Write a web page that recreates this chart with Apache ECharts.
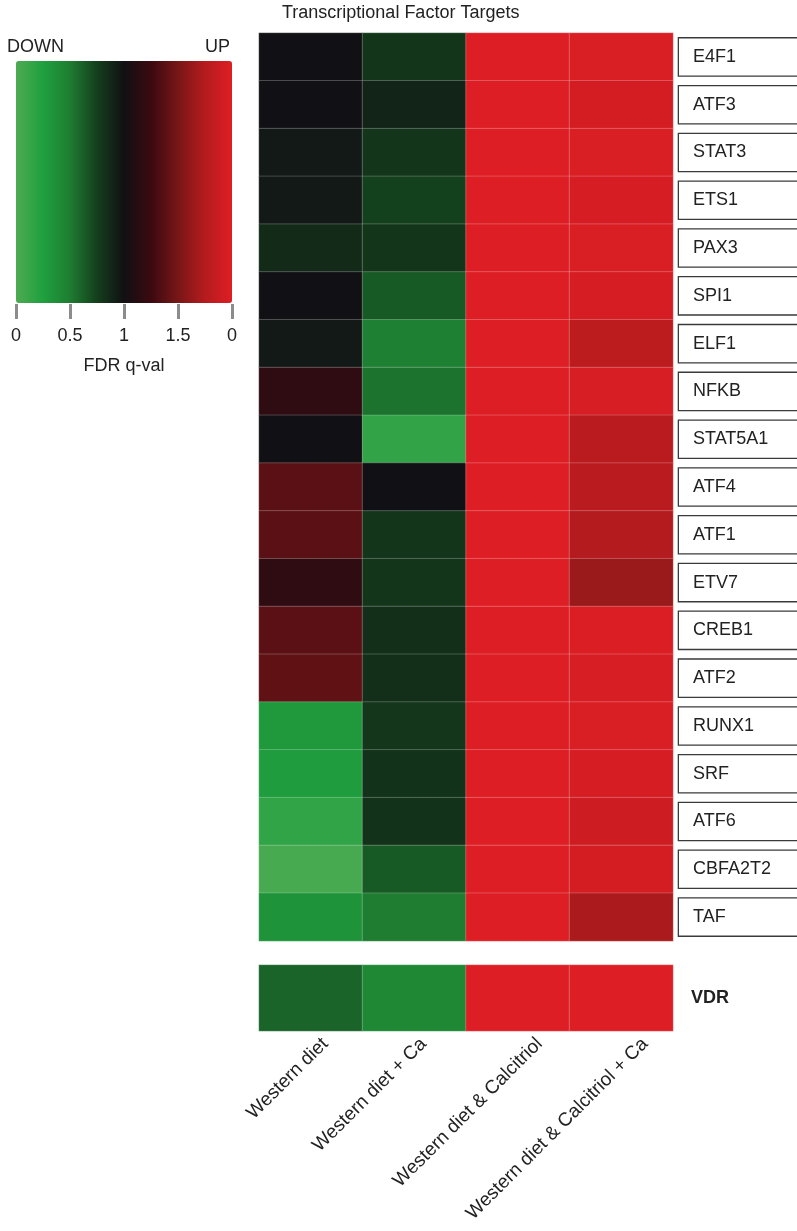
<!DOCTYPE html>
<html>
<head>
<meta charset="utf-8">
<script src="https://cdn.jsdelivr.net/npm/echarts@6/dist/echarts.min.js"></script>
<style>
  html, body { margin: 0; padding: 0; background: #ffffff; }
  #chart { width: 797px; height: 1231px; }
</style>
</head>
<body>
<div id="chart"></div>
<script>
// Diet groups (heatmap columns)
const columns = ['Western diet', 'Western diet + Ca', 'Western diet & Calcitriol', 'Western diet & Calcitriol + Ca'];

// Transcription factor target sets (heatmap rows, top to bottom)
const factors = ['E4F1', 'ATF3', 'STAT3', 'ETS1', 'PAX3', 'SPI1', 'ELF1', 'NFKB', 'STAT5A1', 'ATF4',
                 'ATF1', 'ETV7', 'CREB1', 'ATF2', 'RUNX1', 'SRF', 'ATF6', 'CBFA2T2', 'TAF'];

// Signed FDR scale: 0 = strongest DOWN, 1 = q-val 1 (no change), 2 = strongest UP
const westernDiet        = [1.00, 1.00, 0.95, 0.95, 0.86, 1.00, 0.95, 1.18, 1.00, 1.38,
                            1.38, 1.18, 1.38, 1.40, 0.30, 0.27, 0.16, 0.03, 0.34];
const westernDietCa      = [0.80, 0.90, 0.80, 0.74, 0.80, 0.64, 0.48, 0.54, 0.15, 1.00,
                            0.80, 0.80, 0.84, 0.84, 0.79, 0.82, 0.82, 0.64, 0.50];
const westernCalcitriol  = [2.00, 2.00, 2.00, 2.00, 2.00, 2.00, 2.00, 2.00, 2.00, 2.00,
                            2.00, 2.00, 2.00, 2.00, 2.00, 2.00, 2.00, 2.00, 2.00];
const westernCalcitriolCa= [1.97, 1.93, 1.97, 1.95, 1.97, 1.95, 1.80, 1.96, 1.78, 1.78,
                            1.74, 1.64, 1.98, 1.96, 1.97, 1.95, 1.90, 1.93, 1.71];

// Vitamin D receptor row
const vdrName = ['VDR'];
const vdrValues = [0.60, 0.42, 2.00, 2.00];

// Colour scale ticks
const scaleTickLabels = ['0', '0.5', '1', '1.5', '0'];
const scaleColors = ['#4eab52', '#1fa03f', '#1e7d31', '#143f1c', '#111014',
                     '#3a0a10', '#781617', '#b51b1e', '#de1e25'];

// Where each rotated column caption ends, in column units along the axis
const captionAnchors = [0.14, 1.09, 2.21, 3.23];

const columnValues = [westernDiet, westernDietCa, westernCalcitriol, westernCalcitriolCa];
const mainData = [];
columnValues.forEach((vals, c) => vals.forEach((v, r) => mainData.push([c, r, v])));
const vdrData = vdrValues.map((v, c) => [c, 0, v]);

const FONT = "'Liberation Sans', Arial, Helvetica, sans-serif";
const chart = echarts.init(document.getElementById('chart'), null, { renderer: 'canvas' });

const cellStyle = { borderColor: 'rgba(255,255,255,0.22)', borderWidth: 1 };

function nearestCaption(v) {
  let best = 0;
  captionAnchors.forEach((a, i) => { if (Math.abs(a - v) < Math.abs(captionAnchors[best] - v)) best = i; });
  return columns[best];
}

chart.setOption({
  animation: false,
  backgroundColor: '#ffffff',
  textStyle: { fontFamily: FONT },
  title: {
    text: 'Transcriptional Factor Targets',
    left: 282, top: 4, padding: 0,
    textStyle: { fontFamily: FONT, fontSize: 18, fontWeight: 'normal', color: '#222' }
  },
  graphic: [
    { type: 'text', left: 7, top: 38, style: { text: 'DOWN', fontFamily: FONT, fontSize: 18, fill: '#222' } },
    { type: 'text', right: 797 - 230, top: 38, style: { text: 'UP', fontFamily: FONT, fontSize: 18, fill: '#222' } }
  ],
  visualMap: {
    type: 'continuous',
    orient: 'horizontal',
    min: 0, max: 2,
    left: 16, top: 61,
    padding: 0,
    itemWidth: 242,
    itemHeight: 216,
    calculable: false,
    hoverLink: false,
    realtime: false,
    text: null,
    inRange: { color: scaleColors }
  },
  grid: [
    { left: 259, right: 124, top: 33, height: 908, outerBoundsMode: 'none', containLabel: false },
    { left: 259, right: 124, top: 965, height: 66, outerBoundsMode: 'none', containLabel: false },
    { left: 16, width: 216, top: 303, height: 1, outerBoundsMode: 'none', containLabel: false }
  ],
  xAxis: [
    { type: 'category', gridIndex: 0, data: columns, show: false },
    { type: 'category', gridIndex: 1, data: columns, show: false },
    {
      type: 'value', gridIndex: 1, position: 'bottom', min: -0.5, max: 3.5,
      axisLine: { show: false }, axisTick: { show: false }, splitLine: { show: false },
      axisLabel: {
        customValues: captionAnchors,
        rotate: 45, margin: 10,
        fontFamily: FONT, fontSize: 19, color: '#222',
        formatter: v => nearestCaption(v)
      }
    },
    {
      type: 'value', gridIndex: 2, position: 'bottom', min: 0, max: 2, interval: 0.5,
      axisLine: { show: false },
      axisTick: { show: true, length: 15, lineStyle: { color: '#8c8c8c', width: 3 } },
      splitLine: { show: false },
      axisLabel: {
        margin: 23, fontFamily: FONT, fontSize: 18, color: '#222',
        formatter: v => scaleTickLabels[Math.round(v / 0.5)]
      },
      name: 'FDR q-val', nameLocation: 'middle', nameGap: 53,
      nameTextStyle: { fontFamily: FONT, fontSize: 18, color: '#222' }
    }
  ],
  yAxis: [
    {
      type: 'category', gridIndex: 0, data: factors, inverse: true, position: 'right',
      axisLine: { show: false }, axisTick: { show: false }, splitLine: { show: false },
      axisLabel: {
        margin: 6, align: 'left', verticalAlign: 'middle',
        fontFamily: FONT, fontSize: 18, color: '#222',
        backgroundColor: '#ffffff', borderColor: '#3a3a3a', borderWidth: 1.3,
        width: 125, height: 37, lineHeight: 37, padding: [0, 0, 0, 14]
      }
    },
    {
      type: 'category', gridIndex: 1, data: vdrName, position: 'right',
      axisLine: { show: false }, axisTick: { show: false }, splitLine: { show: false },
      axisLabel: { margin: 18, align: 'left', fontFamily: FONT, fontSize: 18, fontWeight: 'bold', color: '#222' }
    },
    { type: 'value', gridIndex: 2, show: false }
  ],
  series: [
    {
      type: 'heatmap', xAxisIndex: 0, yAxisIndex: 0, data: mainData,
      itemStyle: cellStyle, emphasis: { disabled: true }
    },
    {
      type: 'heatmap', xAxisIndex: 1, yAxisIndex: 1, data: vdrData,
      itemStyle: cellStyle, emphasis: { disabled: true }
    }
  ]
});
</script>
</body>
</html>
